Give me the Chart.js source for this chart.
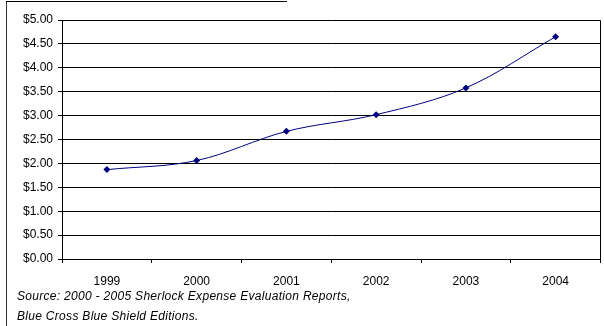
<!DOCTYPE html>
<html>
<head>
<meta charset="utf-8">
<script src="https://cdn.jsdelivr.net/npm/chart.js@4"></script>
<style>
  html, body { margin: 0; padding: 0; background: #fff; }
  #wrap { position: relative; width: 604px; height: 326px; overflow: hidden; }
  #c { position: absolute; left: 0; top: 0; }
  .frame-left { position: absolute; left: 6px; top: 1px; width: 1px; height: 325px; background: #333; }
  .frame-top { position: absolute; left: 6px; top: 1px; width: 281px; height: 1px; background: #000; }
  .source { position: absolute; left: 17px; font: italic 12px "Liberation Sans", Arial, sans-serif; letter-spacing: 0.3px; color: #000; white-space: nowrap; }
</style>
</head>
<body>
<div id="wrap">
  <canvas id="c" width="604" height="326"></canvas>
  <div class="frame-left"></div>
  <div class="frame-top"></div>
  <div class="source" style="top:289px">Source: 2000 - 2005 Sherlock Expense Evaluation Reports,</div>
  <div class="source" style="top:309px">Blue Cross Blue Shield Editions.</div>
</div>
<script>
// Annual cost per member, by year
const years = ['1999', '2000', '2001', '2002', '2003', '2004'];
const costs = [1.87, 2.06, 2.67, 3.02, 3.58, 4.65];

// Value axis range
const yMin = 0;
const yMax = 5;
const yStep = 0.5;

const font = { family: '"Liberation Sans", Arial, sans-serif', size: 12 };

// Close the plot area with a right-hand edge
const plotFrame = {
  id: 'plotFrame',
  afterDraw(chart) {
    const { ctx, chartArea: a } = chart;
    ctx.save();
    ctx.strokeStyle = '#000';
    ctx.lineWidth = 1;
    ctx.beginPath();
    ctx.moveTo(Math.round(a.right) - 0.5, Math.round(a.top) + 0.5);
    ctx.lineTo(Math.round(a.right) - 0.5, Math.round(a.bottom) + 0.5);
    ctx.stroke();
    ctx.restore();
  }
};

new Chart(document.getElementById('c'), {
  type: 'line',
  data: {
    labels: years,
    datasets: [{
      data: costs,
      borderColor: '#000080',
      backgroundColor: '#000080',
      borderWidth: 1,
      tension: 0.35,
      pointStyle: 'rectRot',
      pointRadius: 3.5,
      pointHoverRadius: 3.5,
      pointBorderWidth: 0,
      fill: false
    }]
  },
  options: {
    responsive: false,
    animation: false,
    events: [],
    layout: { padding: { left: 0, right: 2, top: 20, bottom: 0 } },
    plugins: { legend: { display: false }, tooltip: { enabled: false } },
    scales: {
      x: {
        offset: true,
        grid: { offset: true, drawOnChartArea: false, color: '#000', tickLength: 4 },
        border: { display: true, color: '#000', width: 1 },
        ticks: { color: '#000', font: font, padding: 11, maxRotation: 0 },
        afterFit(scale) { scale.height = 67; }
      },
      y: {
        min: yMin,
        max: yMax,
        grid: { color: '#000', lineWidth: 1, tickLength: 4 },
        border: { display: true, color: '#000', width: 1 },
        ticks: {
          stepSize: yStep,
          color: '#000',
          font: font,
          padding: 5,
          callback: v => '$' + Number(v).toFixed(2)
        },
        afterFit(scale) { scale.width = 62; }
      }
    }
  },
  plugins: [plotFrame]
});
</script>
</body>
</html>
